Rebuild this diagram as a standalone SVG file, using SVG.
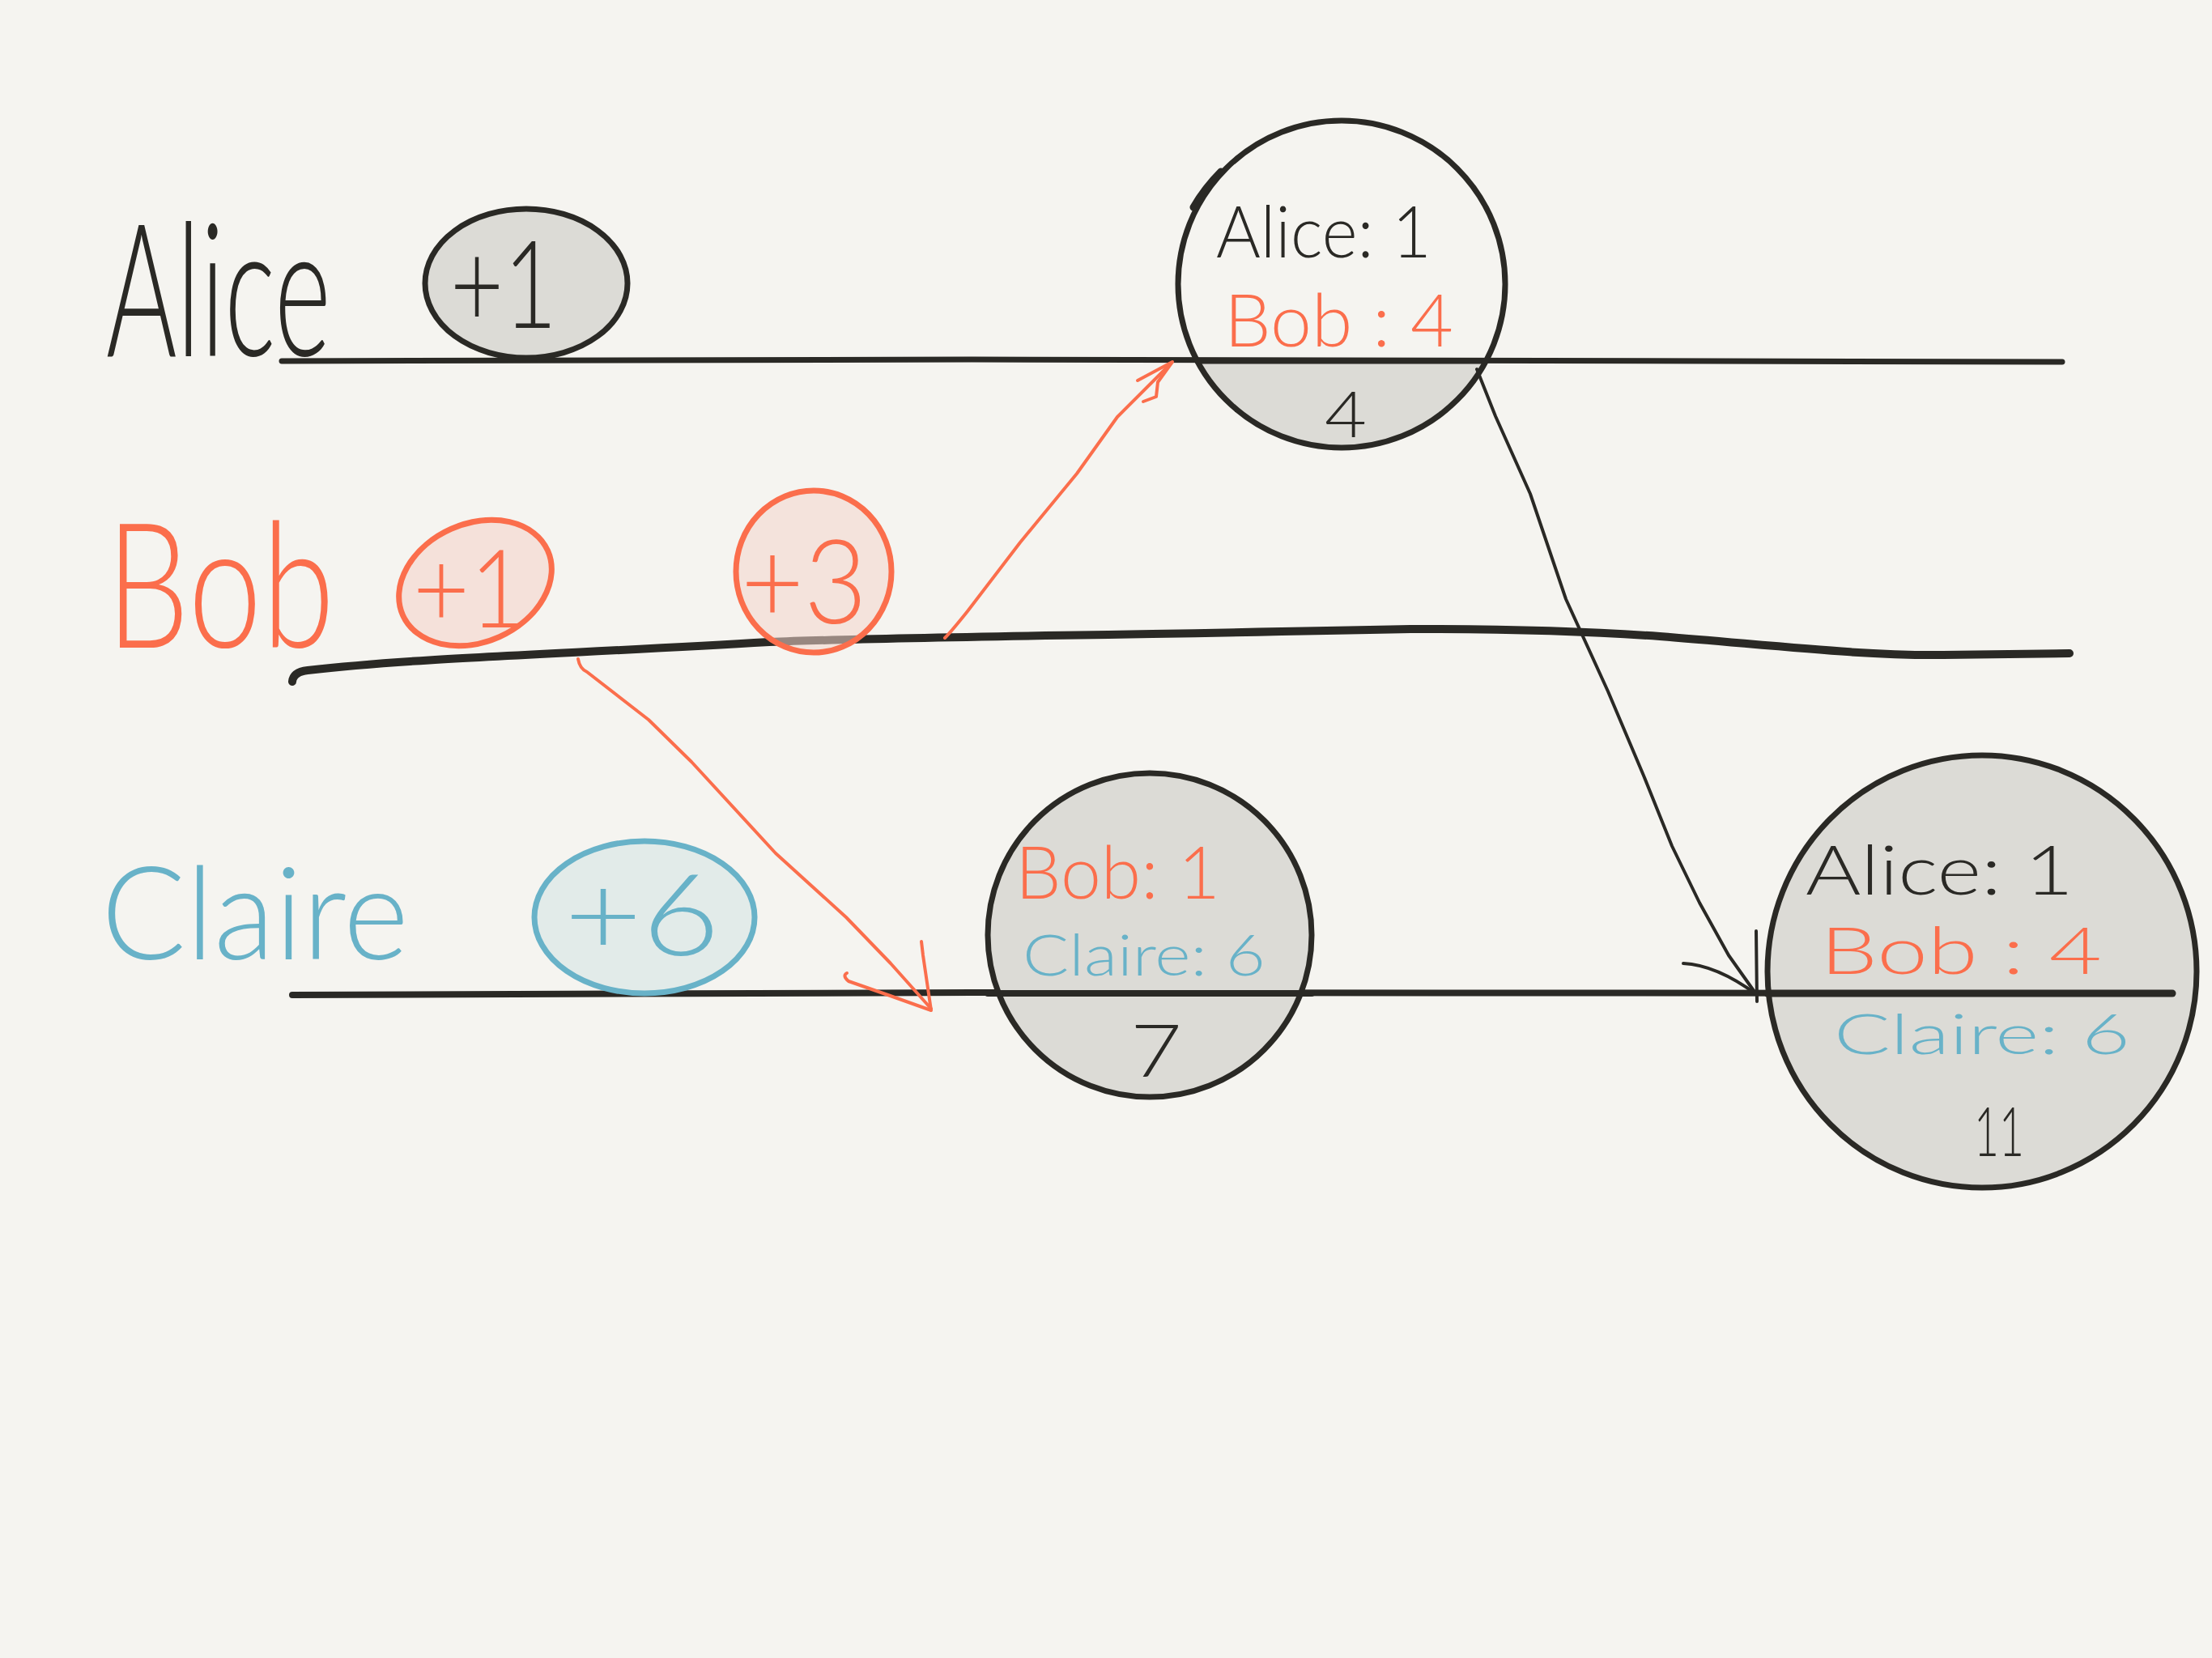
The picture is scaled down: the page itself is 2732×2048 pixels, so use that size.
<svg xmlns="http://www.w3.org/2000/svg" width="2732" height="2048" viewBox="0 0 2732 2048">
<style>
.ink{fill:none;stroke:#2a2925;stroke-linecap:round;stroke-linejoin:round}
.or{fill:none;stroke:#fb6e4c;stroke-linecap:round;stroke-linejoin:round}
.bl{fill:none;stroke:#68b2c8;stroke-linecap:round;stroke-linejoin:round}
text{font-family:Lato,"Open Sans","Liberation Sans",sans-serif;font-weight:300}
.tk{fill:#2a2925}
.to{fill:#fb6e4c}
.tb{fill:#68b2c8}
</style>
<rect width="2732" height="2048" fill="#f5f4f0"/>

<g id="timelines">
<path class="ink" stroke-width="7" d="M348,446 L1200,444 L2547,447"/>
<path class="ink" stroke-width="10" d="M361,842 Q362,830 380,828 C520,812 700,808 950,793 C1100,787 1300,786 1742,777 C1850,777 1950,779 2050,786 C2200,798 2300,810 2400,809 L2556,807"/>
<path class="ink" stroke-width="8" d="M361,1229 L1200,1226 L2683,1227"/>
</g>

<g id="label-alice"><text class="tk" transform="translate(131,440) scale(0.62,1)" font-size="230" textLength="448" lengthAdjust="spacingAndGlyphs">Alice</text></g>
<g id="label-bob"><text class="to" transform="translate(131,800) scale(0.85,1)" font-size="215" textLength="332" lengthAdjust="spacingAndGlyphs">Bob</text></g>
<g id="label-claire"><text class="tb" x="125" y="1185" font-size="160" textLength="380" lengthAdjust="spacingAndGlyphs">Claire</text></g>

<g id="alice-plus1">
<ellipse cx="650" cy="350" rx="125" ry="92" class="ink" style="fill:#dcdbd6" stroke-width="7"/>
<text class="tk" x="556" y="405" font-size="150" textLength="132" lengthAdjust="spacingAndGlyphs">+1</text>
</g>

<g id="bob-plus1">
<ellipse cx="587" cy="720" rx="98" ry="73" transform="rotate(-24 587 720)" class="or" style="fill:#f5e1da" stroke-width="7"/>
<text class="to" x="510" y="775" font-size="135" textLength="140" lengthAdjust="spacingAndGlyphs">+1</text>
</g>

<g id="bob-plus3">
<ellipse cx="1005" cy="706" rx="96" ry="100" class="or" style="fill:#f2d6cc;fill-opacity:0.55" stroke-width="7"/>
<text class="to" x="915" y="770" font-size="145" textLength="156" lengthAdjust="spacingAndGlyphs">+3</text>
</g>

<g id="claire-plus6">
<ellipse cx="796" cy="1133" rx="136" ry="94" class="bl" style="fill:#e2ebe9" stroke-width="7"/>
<text class="tb" x="697" y="1180" font-size="140" textLength="192" lengthAdjust="spacingAndGlyphs">+6</text>
</g>

<g id="merge-alice">
<path d="M1479,446 A202,202 0 0 0 1835,446 Z" style="fill:#dcdbd6"/>
<circle cx="1657" cy="351" r="202" class="ink" stroke-width="7"/>
<path class="ink" stroke-width="9" d="M1474,256 Q1488,232 1508,212"/>
<path class="ink" stroke-width="7" d="M1479,446 L1835,446"/>
<text class="tk" x="1502" y="318" font-size="88" textLength="266" lengthAdjust="spacingAndGlyphs">Alice: 1</text>
<text class="to" x="1512" y="428" font-size="90" textLength="283" lengthAdjust="spacingAndGlyphs">Bob : 4</text>
<text class="tk" x="1636" y="540" font-size="78" textLength="52" lengthAdjust="spacingAndGlyphs">4</text>
</g>

<g id="merge-claire">
<circle cx="1420" cy="1155" r="200" class="ink" style="fill:#dcdbd6" stroke-width="7"/>
<path class="ink" stroke-width="8" d="M1220,1227 L1620,1227"/>
<text class="to" x="1254" y="1110" font-size="90" textLength="253" lengthAdjust="spacingAndGlyphs">Bob: 1</text>
<text class="tb" x="1263" y="1205" font-size="70" textLength="300" lengthAdjust="spacingAndGlyphs">Claire: 6</text>
<text class="tk" x="1396" y="1330" font-size="90" textLength="64" lengthAdjust="spacingAndGlyphs">7</text>
</g>

<g id="merge-final">
<ellipse cx="2448" cy="1200" rx="265" ry="267" class="ink" style="fill:#dcdbd6" stroke-width="7"/>
<path class="ink" stroke-width="9" d="M2183,1227 L2683,1227"/>
<text class="tk" x="2230" y="1105" font-size="85" textLength="331" lengthAdjust="spacingAndGlyphs">Alice: 1</text>
<text class="to" x="2248" y="1203" font-size="80" textLength="348" lengthAdjust="spacingAndGlyphs">Bob : 4</text>
<text class="tb" x="2265" y="1302" font-size="68" textLength="366" lengthAdjust="spacingAndGlyphs">Claire: 6</text>
<text class="tk" x="2438" y="1428" font-size="85" textLength="62" lengthAdjust="spacingAndGlyphs">11</text>
</g>

<g id="connectors">
<path class="or" stroke-width="4" d="M1167,788 Q1175,780 1195,755 L1260,670 L1330,585 L1380,515 L1446,449"/>
<path class="or" stroke-width="4" d="M1405,470 L1448,447 L1430,472 L1428,490 L1412,496"/>
<path class="or" stroke-width="4" d="M714,814 Q716,826 725,830 L801,889 L854,941 L958,1054 L1045,1133 L1100,1190 L1150,1246"/>
<path class="or" stroke-width="4" d="M1046,1202 Q1040,1205 1048,1212 Q1100,1230 1150,1248 L1140,1180 L1138,1163"/>
<path class="ink" stroke-width="4" d="M1824,456 L1847,514 L1890,610 L1934,740 L1986,854 L2030,958 L2065,1045 L2099,1115 L2135,1180 L2169,1228"/>
<path class="ink" stroke-width="4" d="M2079,1190 Q2120,1192 2169,1228 M2169,1150 L2170,1237"/>
</g>
</svg>
